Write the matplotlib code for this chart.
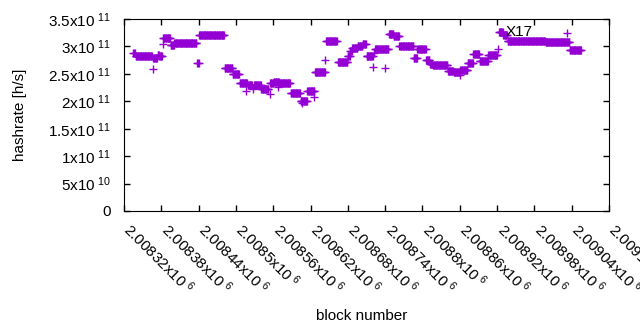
import numpy as np
import matplotlib
matplotlib.use("Agg")
import matplotlib.pyplot as plt
from matplotlib.ticker import FixedLocator, FuncFormatter
from matplotlib.transforms import ScaledTranslation

plt.rcParams["font.family"] = ["Liberation Sans", "DejaVu Sans"]
plt.rcParams["mathtext.fontset"] = "custom"
plt.rcParams["mathtext.rm"] = "Liberation Sans"
plt.rcParams["mathtext.default"] = "regular"

BASE = 2008000

# runs of consecutive blocks sharing one hashrate (block offset from BASE, rate in 1e11 h/s)
run_start = [335, 339, 367, 374, 377, 383, 395, 401, 438, 441, 482, 495, 506, 519,
             529, 541, 555, 561, 570, 588, 604, 615, 627, 645, 664, 680, 684, 687,
             696, 704, 710, 724, 746, 754, 763, 786, 792, 806, 812, 817, 841, 850,
             861, 873, 882, 892, 906, 923, 930, 937, 998, 1037]
run_end = [337, 365, 373, 376, 381, 394, 400, 436, 440, 481, 494, 505, 518, 526,
           540, 552, 560, 569, 587, 603, 614, 626, 643, 662, 679, 683, 686, 695,
           703, 709, 720, 745, 753, 762, 785, 791, 805, 811, 816, 840, 849, 860,
           872, 881, 891, 905, 920, 929, 936, 997, 1036, 1055]
run_rate = [2.875, 2.82, 2.783, 2.844, 2.82, 3.148, 3.026, 3.057, 2.692, 3.208,
            2.601, 2.492, 2.328, 2.297, 2.291, 2.224, 2.328, 2.351, 2.328, 2.145,
            2.005, 2.182, 2.525, 3.093, 2.721, 2.825, 2.917, 2.971, 3.008, 3.044,
            2.825, 2.948, 3.226, 3.184, 3.002, 2.783, 2.948, 2.747, 2.685, 2.661,
            2.557, 2.539, 2.570, 2.703, 2.856, 2.734, 2.844, 3.257, 3.208, 3.093,
            3.075, 2.929]

# isolated blocks off their run
single_block = [366, 382, 516, 527, 554, 568, 606, 626, 643, 721, 722, 740, 860, 922, 1033]
single_rate = [2.583, 3.039, 2.193, 2.218, 2.133, 2.266, 1.963, 2.083, 2.752, 2.619,
               2.88, 2.601, 2.479, 2.948, 3.25]

x_ticks = [2008320 + 60 * k for k in range(14)]
y_ticks = [0, 0.5e11, 1e11, 1.5e11, 2e11, 2.5e11, 3e11, 3.5e11]

blocks, rates = [], []
for s, e, r in zip(run_start, run_end, run_rate):
    for b in range(s, e + 1):
        blocks.append(BASE + b)
        rates.append(r * 1e11)
for b, r in zip(single_block, single_rate):
    blocks.append(BASE + b)
    rates.append(r * 1e11)

fig = plt.figure(figsize=(6.4, 3.3), dpi=100)
ax = fig.add_axes([124 / 640, 119 / 330, 485 / 640, 192 / 330])

ax.plot(blocks, rates, linestyle="none", marker="+", color="#9400D3",
        markersize=5.5, markeredgewidth=1.0)

ax.text(2008934, 3.263e11, "X17", fontsize=11, ha="left", va="center")

ax.set_xlim(x_ticks[0], x_ticks[-1])
ax.set_ylim(0, 3.5e11)


def x_fmt(v, _):
    return "%sx10$^{\\ 6}$" % ("%.5f" % (v / 1e6)).rstrip("0")


def y_fmt(v, _):
    if v == 0:
        return "0"
    exp = int(np.floor(np.log10(v)))
    mant = ("%.1f" % (v / 10 ** exp)).rstrip("0").rstrip(".")
    return "%sx10$^{\\ %d}$" % (mant, exp)


ax.xaxis.set_major_locator(FixedLocator(x_ticks))
ax.yaxis.set_major_locator(FixedLocator(y_ticks))
ax.xaxis.set_major_formatter(FuncFormatter(x_fmt))
ax.yaxis.set_major_formatter(FuncFormatter(y_fmt))

ax.tick_params(direction="in", top=True, right=True, length=4, width=1, labelsize=11)
ax.tick_params(axis="y", pad=9.5)
ax.tick_params(axis="x", pad=11, labelrotation=-45)
shift = ScaledTranslation(3 / 100, 0, fig.dpi_scale_trans)
for lab in ax.get_xticklabels():
    lab.set_ha("left")
    lab.set_va("center")
    lab.set_rotation_mode("anchor")
    lab.set_transform(lab.get_transform() + shift)

ax.set_xlabel("block number", fontsize=11)
ax.set_ylabel("hashrate [h/s]", fontsize=11)
ax.yaxis.set_label_coords(-0.2, 0.5)
ax.xaxis.set_label_coords(0.49, -0.51)

fig.savefig("out.png", dpi=100)
